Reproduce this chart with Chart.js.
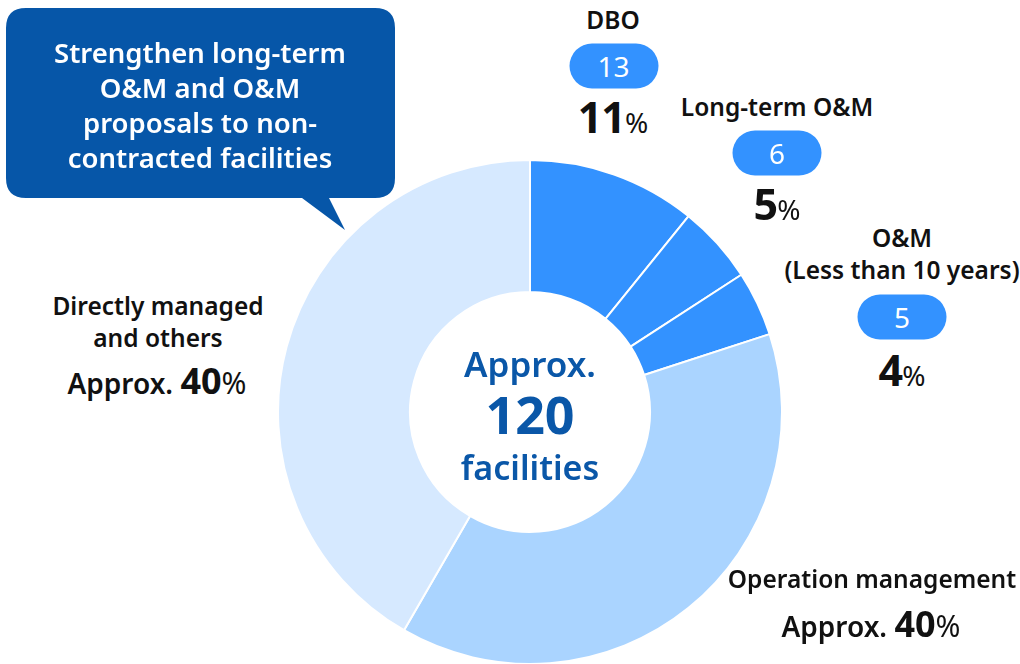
<!DOCTYPE html>
<html>
<head>
<meta charset="utf-8">
<script src="https://cdn.jsdelivr.net/npm/chart.js@4"></script>
<style>
  html, body { margin:0; padding:0; width:1020px; height:664px; overflow:hidden; background:#fff; font-family:"Noto Sans", "Open Sans", sans-serif; }
  #wrap { position:absolute; left:277px; top:159px; width:506px; height:506px; }
  .t { position:absolute; transform:translate(-50%,-50%); white-space:nowrap; color:#111; text-align:center; line-height:1; }
  .lbl { font-size:24.5px; font-weight:600; }
  .pill { position:absolute; width:89px; height:45px; border-radius:23px; background:#3392FF; color:#fff; font-size:28px; display:flex; align-items:center; justify-content:center; transform:translate(-50%,-50%); }
  .pct { font-weight:700; font-size:43px; letter-spacing:-1px; }
  .pct small { font-size:28px; font-weight:400; letter-spacing:0; }
  .apx { font-weight:700; font-size:36px; }
  .apx span { font-size:28px; font-weight:600; }
  .apx small { font-size:30px; font-weight:400; }
  .ctr { color:#0A57A8; }
</style>
</head>
<body>
<svg width="1020" height="664" style="position:absolute;left:0;top:0">
  <path d="M26,8 H375 Q395,8 395,28 V178 Q395,198 375,198 H329 L345,230 L302,198 H26 Q6,198 6,178 V28 Q6,8 26,8 Z" fill="#0656A8"/>
</svg>
<div id="wrap"><canvas id="c" width="506" height="506"></canvas></div>

<div class="t" style="left:200px;top:105px;color:#fff;font-size:27.5px;font-weight:600;line-height:35px;">Strengthen long-term<br>O&amp;M and O&amp;M<br>proposals to non-<br>contracted facilities</div>

<div id="labels"></div>

<script>
const categories = ["DBO", "Long-term O&M", "O&M (Less than 10 years)", "Operation management", "Directly managed and others"];
const counts = [13, 6, 5, 46, 50];
const percentLabels = ["11", "5", "4", "40", "40"];
const colors = ["#3392FF", "#3392FF", "#3392FF", "#AAD4FF", "#D6E9FF"];
const totalLabel = "120";

new Chart(document.getElementById('c'), {
  type: 'doughnut',
  data: { labels: categories, datasets: [{ data: counts, backgroundColor: colors, borderColor: '#ffffff', borderWidth: 2 }] },
  options: {
    responsive: false,
    animation: false,
    cutout: '47.6%',
    layout: { padding: 0 },
    plugins: { legend: { display: false }, tooltip: { enabled: false } }
  }
});

const L = document.getElementById('labels');
function add(html, cls, x, y, extra) {
  const d = document.createElement('div');
  d.className = cls;
  d.style.left = x + 'px';
  d.style.top = y + 'px';
  if (extra) d.style.cssText += extra;
  d.innerHTML = html;
  L.appendChild(d);
}
// center
add('Approx.', 't ctr', 530, 363, 'font-size:35px;font-weight:600;');
add(totalLabel, 't ctr', 530, 414, 'font-size:52px;font-weight:700;');
add('facilities', 't ctr', 530, 467, 'font-size:34px;font-weight:600;');

// DBO
add(categories[0], 't lbl', 613, 20);
add(counts[0], 'pill', 613.5, 65.5);
add(percentLabels[0] + '<small>%</small>', 't pct', 613, 116);
// Long-term
add(categories[1], 't lbl', 777, 107);
add(counts[1], 'pill', 777, 152.5);
add(percentLabels[1] + '<small>%</small>', 't pct', 777, 203);
// O&M
add('O&amp;M', 't lbl', 902, 238);
add('(Less than 10 years)', 't lbl', 902, 270);
add(counts[2], 'pill', 902, 316.5);
add(percentLabels[2] + '<small>%</small>', 't pct', 902, 369);
// Directly managed
add('Directly managed', 't lbl', 158, 306);
add('and others', 't lbl', 158, 338);
add('<span>Approx. </span>' + percentLabels[4] + '<small>%</small>', 't apx', 157, 381);
// Operation management
add('Operation management', 't lbl', 872, 579);
add('<span>Approx. </span>' + percentLabels[3] + '<small>%</small>', 't apx', 871, 624);
</script>
</body>
</html>
